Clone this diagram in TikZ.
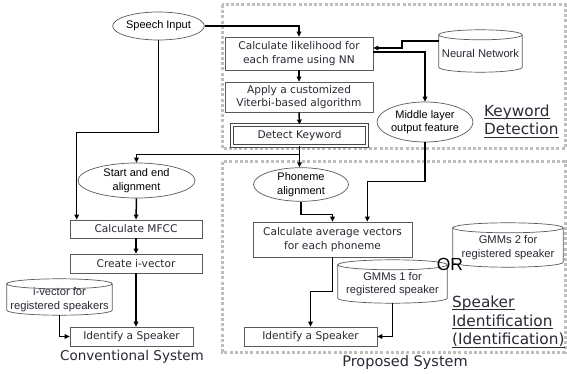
\documentclass[tikz,border=0pt]{standalone}
\usepackage{fontspec}
\setmainfont{DejaVu Sans}
\newfontfamily\arialfont{Liberation Sans}
\usetikzlibrary{shapes.geometric,arrows.meta,calc}
\definecolor{ink}{RGB}{40,40,55}
\definecolor{edge}{RGB}{90,90,90}
\definecolor{zone}{RGB}{190,190,190}

% outline of a database drum around a rectangular text node
\newcommand\drumoutline[1]{%
  \draw[drumline] let \p1=(#1.north west), \p2=(#1.south east), \n1={(\x2-\x1)/2} in
    (\x1,\y1) arc[start angle=180,end angle=-180,x radius=\n1,y radius=5pt]
    -- (\x1,\y2+5pt) arc[start angle=180,end angle=360,x radius=\n1,y radius=5pt]
    -- (\x2,\y1);}

\begin{document}
\begin{tikzpicture}[x=1pt,y=-1pt,
  zonebox/.style={draw=zone, line width=3pt, dash pattern=on 3pt off 2.2pt},
  stepbox/.style={draw=edge, line width=0.7pt, fill=white, text=ink, inner sep=0pt,
    align=center, font=\fontsize{10.6}{13.5}\selectfont},
  oval/.style={ellipse, draw=edge, line width=0.7pt, fill=white, text=black, inner sep=0pt,
    align=center, font=\arialfont\fontsize{11}{13.5}\selectfont},
  drum/.style={rectangle, inner sep=0pt, align=center, text=ink,
    font=\arialfont\fontsize{11.2}{13.5}\selectfont},
  drumline/.style={draw=edge, line width=0.7pt},
  flow/.style={draw=black, line width=1.5pt, -{Triangle[length=5pt,width=4.5pt]}},
  heading/.style={inner sep=0pt, anchor=base west, text=ink, font=\fontsize{15.3}{19}\selectfont},
  rule/.style={draw=ink, line width=1pt},
]
\useasboundingbox (0,0) rectangle (567,374);

% dotted zones
\draw[zonebox] (222,5) rectangle (565,149);
\draw[zonebox] (222,162) rectangle (565,352);

% keyword detection chain
\node[oval, minimum width=83pt, minimum height=28pt] (speech) at (158.5,26) {Speech Input};
\node[stepbox, minimum width=148pt, minimum height=33pt] (calc) at (299,53.5)
  {Calculate likelihood for\\each frame using NN};
\node[stepbox, minimum width=148pt, minimum height=30pt] (viterbi) at (299,97)
  {Apply a customized\\Viterbi-based algorithm};
\node[stepbox, draw=edge!80!black, double=white, double distance=1.3pt, line width=0.9pt,
  minimum width=135pt, minimum height=21pt] (detect) at (299.5,135.5) {Detect Keyword};
\node[drum, minimum width=83pt, minimum height=37pt] (nn) at (480.5,53.5) {Neural Network};
\drumoutline{nn}
\node[oval, minimum width=95pt, minimum height=40pt] (mid) at (425,122)
  {Middle layer\\output feature};

% conventional system
\node[oval, minimum width=117pt, minimum height=35pt] (startend) at (136.5,180.5)
  {Start and end\\alignment};
\node[stepbox, minimum width=132pt, minimum height=18pt] (mfcc) at (136,229) {Calculate MFCC};
\node[stepbox, minimum width=132pt, minimum height=19pt] (ivec) at (136,263.5) {Create i-vector};
\node[stepbox, minimum width=123pt, minimum height=19pt] (identc) at (131.5,336.5) {Identify a Speaker};
\node[drum, minimum width=105pt, minimum height=31pt] (ivdb) at (59.5,299.5)
  {i-vector for\\registered speakers};
\drumoutline{ivdb}

% proposed system
\node[oval, minimum width=95pt, minimum height=33pt] (phon) at (301,184.5)
  {Phoneme\\alignment};
\node[stepbox, minimum width=159pt, minimum height=35pt] (avg) at (332.5,239.5)
  {Calculate average vectors\\for each phoneme};
\node[stepbox, minimum width=133pt, minimum height=19pt] (identp) at (310.5,336.5) {Identify a Speaker};
\node[drum, minimum width=109pt, minimum height=38pt] (gmm1) at (392.5,284)
  {GMMs 1 for\\registered speaker};
\drumoutline{gmm1}
\node[drum, minimum width=110pt, minimum height=39pt] (gmm2) at (508,247.5)
  {GMMs 2 for\\registered speaker};
\drumoutline{gmm2}
\node[inner sep=0pt, font=\arialfont\fontsize{17.5}{20}\selectfont] (or) at (450,264) {OR};

% connectors
\draw[flow] (speech.east) -| (calc.north);
\draw[flow] ([yshift=-6pt]nn.north west) -- ++(-37,0) |- ([yshift=5.5pt]calc.east);
\draw[flow] ([yshift=1.5pt]calc.east) -| (mid.north);
\draw[flow] (calc.south) -- (viterbi.north);
\draw[flow] (viterbi.south) -- (detect.north);
\coordinate (fork) at ($(detect.south)+(0,8)$);
\draw[flow] (detect.south) -- (detect.south |- phon.north);
\draw[flow] (fork) -| (startend.north);
\draw[flow] (speech.south) -- ++(0,92) -| ([xshift=7pt]mfcc.north west);
\draw[flow] (startend.south) -- (mfcc.north);
\draw[flow] (mfcc.south) -- (ivec.north);
\draw[flow] (ivec.south) -- (ivec.south |- identc.north);
\draw[flow] (ivdb.south) |- (identc.west);
\draw[flow] (mid.south) -- ++(0,39) -| ([xshift=-45pt]avg.north east);
\draw[flow] (phon.south) -- ++(0,13) -| (avg.north);
\draw[flow] (avg.south) -- ++(0,34) -| (identp.north);
\draw[flow] (gmm1.south) |- (identp.east);

% headings
\node[heading] (kw1) at (484,116.5) {Keyword};
\node[heading] (kw2) at (484,135) {Detection};
\draw[rule] ([yshift=-2.5pt]kw1.base west) -- ([yshift=-2.5pt]kw1.base east);
\draw[rule] ([yshift=-2.5pt]kw2.base west) -- ([yshift=-2.5pt]kw2.base east);
\node[heading] (si1) at (452,307) {Speaker};
\node[heading] (si2) at (452,326) {Identification};
\node[heading] (si3) at (452,344.5) {(Identification)};
\draw[rule] ([yshift=-2.5pt]si1.base west) -- ([yshift=-2.5pt]si1.base east);
\draw[rule] ([yshift=-2.5pt]si2.base west) -- ([yshift=-2.5pt]si2.base east);
\draw[rule] ([yshift=-2.5pt]si3.base west) -- ([yshift=-2.5pt]si3.base east);
\node[inner sep=0pt, text=ink, font=\fontsize{13.5}{16}\selectfont] (conv) at (132,357) {Conventional System};
\node[inner sep=0pt, text=ink, font=\fontsize{14.5}{17}\selectfont] (prop) at (405,362) {Proposed System};
\end{tikzpicture}
\end{document}
